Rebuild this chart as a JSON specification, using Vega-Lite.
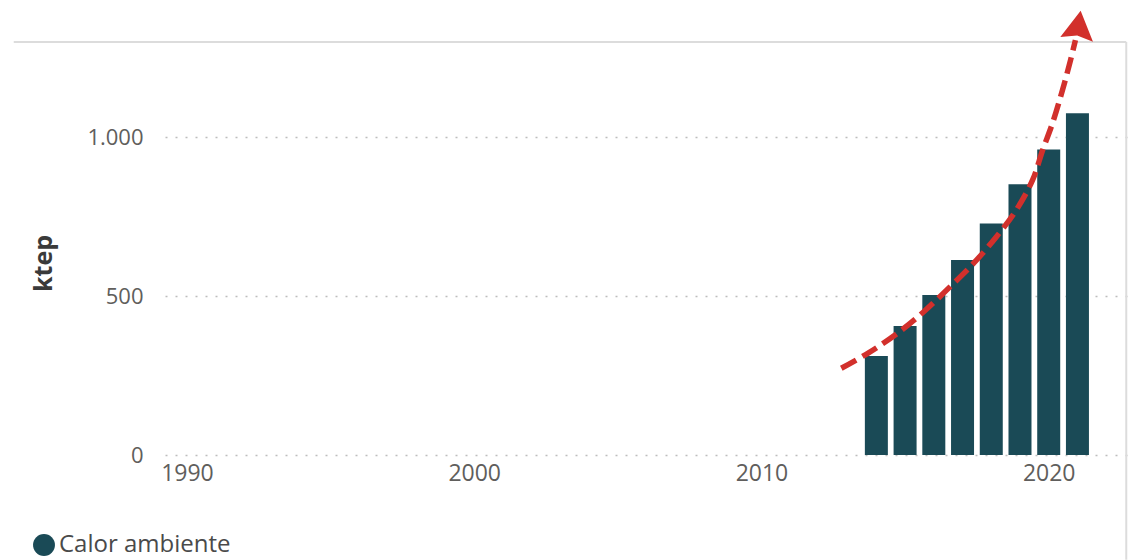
{
  "$schema": "https://vega.github.io/schema/vega-lite/v6.json",
  "width": 968,
  "height": 413,
  "autosize": "none",
  "padding": {"left": 165, "top": 42, "right": 4, "bottom": 105},
  "background": "white",
  "config": {"view": {"stroke": null}, "font": "Open Sans"},
  "datasets": {
    "bars": [
      {"year": 2014, "ktep": 312, "serie": "Calor ambiente"},
      {"year": 2015, "ktep": 406, "serie": "Calor ambiente"},
      {"year": 2016, "ktep": 504, "serie": "Calor ambiente"},
      {"year": 2017, "ktep": 614, "serie": "Calor ambiente"},
      {"year": 2018, "ktep": 729, "serie": "Calor ambiente"},
      {"year": 2019, "ktep": 852, "serie": "Calor ambiente"},
      {"year": 2020, "ktep": 962, "serie": "Calor ambiente"},
      {"year": 2021, "ktep": 1076, "serie": "Calor ambiente"}
    ],
    "trend": [
      {"year": 2012.78, "ktep": 273},
      {"year": 2013.70, "ktep": 320},
      {"year": 2014.73, "ktep": 383},
      {"year": 2015.65, "ktep": 451},
      {"year": 2016.57, "ktep": 530},
      {"year": 2017.38, "ktep": 603},
      {"year": 2018.18, "ktep": 687},
      {"year": 2018.87, "ktep": 771},
      {"year": 2019.44, "ktep": 866},
      {"year": 2019.79, "ktep": 960},
      {"year": 2020.13, "ktep": 1044},
      {"year": 2020.48, "ktep": 1149},
      {"year": 2020.76, "ktep": 1243},
      {"year": 2020.93, "ktep": 1306}
    ],
    "head": [{"year": 2021.04, "ktep": 1352}]
  },
  "layer": [
    {
      "data": {"values": [{}]},
      "mark": {"type": "rule", "color": "#dcdcdc", "strokeWidth": 2},
      "encoding": {
        "x": {"datum": 1983.97, "type": "quantitative", "scale": {"domain": [1989.41, 2022.76], "nice": false, "zero": false}},
        "x2": {"datum": 2022.7},
        "y": {"datum": 1300, "type": "quantitative", "scale": {"domain": [0, 1300], "nice": false}}
      }
    },
    {
      "data": {"values": [{}]},
      "mark": {"type": "rule", "color": "#dcdcdc", "strokeWidth": 2},
      "encoding": {
        "x": {"datum": 2022.7, "type": "quantitative", "scale": {"domain": [1989.41, 2022.76], "nice": false, "zero": false}},
        "y": {"datum": 1300, "type": "quantitative", "scale": {"domain": [0, 1300], "nice": false}},
        "y2": {"datum": -330}
      }
    },
    {
      "data": {"name": "bars"},
      "mark": {"type": "bar", "size": 23},
      "encoding": {
        "x": {
          "field": "year", "type": "quantitative",
          "scale": {"domain": [1989.41, 2022.76], "nice": false, "zero": false},
          "axis": {
            "title": null, "values": [1990, 2000, 2010, 2020], "format": "d",
            "grid": false, "domain": false, "ticks": false,
            "labelFontSize": 23, "labelColor": "#605e5c", "labelPadding": 7, "labelFlush": false
          }
        },
        "y": {
          "field": "ktep", "type": "quantitative",
          "scale": {"domain": [0, 1300], "nice": false},
          "axis": {
            "title": "ktep", "titleFontSize": 25, "titleFontWeight": "bold", "titleColor": "#3a3a3a",
            "titleAngle": -90, "titleX": -122, "titleY": 221, "titleAlign": "center", "titleBaseline": "middle",
            "values": [0, 500, 1000],
            "labelExpr": "replace(format(datum.value, ','), ',', '.')",
            "labelFontSize": 22, "labelColor": "#605e5c", "labelPadding": 22,
            "domain": false, "ticks": false,
            "grid": true, "gridColor": "#bdbdbd", "gridDash": [2, 8], "gridWidth": 1.5
          }
        },
        "color": {
          "field": "serie", "type": "nominal",
          "scale": {"range": ["#1a4a56"]},
          "legend": {
            "title": null, "orient": "none", "legendX": -133, "legendY": 491,
            "symbolType": "circle", "symbolSize": 480, "symbolStrokeWidth": 0,
            "labelFontSize": 24, "labelColor": "#4a4a4a", "labelOffset": 3, "labelLimit": 400
          }
        }
      }
    },
    {
      "data": {"name": "trend"},
      "mark": {"type": "line", "color": "#d2302c", "strokeWidth": 5.5, "strokeDash": [17, 7], "interpolate": "catmull-rom"},
      "encoding": {
        "x": {"field": "year", "type": "quantitative", "scale": {"domain": [1989.41, 2022.76], "nice": false, "zero": false}},
        "y": {"field": "ktep", "type": "quantitative", "scale": {"domain": [0, 1300], "nice": false}}
      }
    },
    {
      "data": {"name": "head"},
      "mark": {"type": "point", "shape": "M0,-0.9L1,0.85L0,0.62L-1,0.85Z", "filled": true, "size": 1089, "angle": 8, "color": "#d2302c", "opacity": 1},
      "encoding": {
        "x": {"field": "year", "type": "quantitative", "scale": {"domain": [1989.41, 2022.76], "nice": false, "zero": false}},
        "y": {"field": "ktep", "type": "quantitative", "scale": {"domain": [0, 1300], "nice": false}}
      }
    }
  ]
}
